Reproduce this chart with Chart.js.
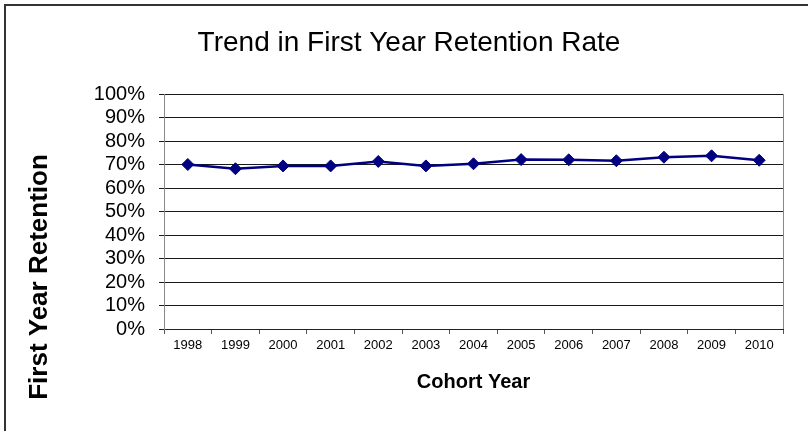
<!DOCTYPE html>
<html>
<head>
<meta charset="utf-8">
<script src="https://cdn.jsdelivr.net/npm/chart.js@4/dist/chart.umd.min.js"></script>
<style>
  html, body { margin: 0; padding: 0; background: #fff; overflow: hidden; }
  canvas { display: block; }
</style>
</head>
<body>
<canvas id="chart" width="808" height="431"></canvas>
<script>
const years = ['1998', '1999', '2000', '2001', '2002', '2003', '2004', '2005', '2006', '2007', '2008', '2009', '2010'];
const retention = [70.0, 68.2, 69.4, 69.4, 71.3, 69.4, 70.3, 72.1, 72.0, 71.6, 73.1, 73.7, 71.8];
const chartTitle = 'Trend in First Year Retention Rate';
const xTitle = 'Cohort Year';
const yTitle = 'First Year Retention';

const FONT = "'Liberation Sans', Arial, sans-serif";

// outer frame (only left and top edges are visible in the original)
const outerFrame = {
    id: 'outerFrame',
    beforeDraw(chart) {
        const ctx = chart.ctx;
        ctx.save();
        ctx.fillStyle = '#333';
        ctx.fillRect(4, 4, chart.width - 4, 2);
        ctx.fillRect(4, 4, 2, chart.height - 4);
        ctx.restore();
    }
};

// y title drawn by hand so it sits lower than the plot centre, like the original
const yTitlePlugin = {
    id: 'yTitle',
    afterDraw(chart) {
        const ctx = chart.ctx;
        ctx.save();
        ctx.translate(40, 277);
        ctx.rotate(-Math.PI / 2);
        ctx.font = 'bold 26px ' + FONT;
        ctx.fillStyle = '#000';
        ctx.textAlign = 'center';
        ctx.textBaseline = 'middle';
        ctx.fillText(yTitle, 0, 0);
        ctx.restore();
    }
};

// gray right edge of the plot area
const plotBorder = {
    id: 'plotBorder',
    afterDatasetsDraw(chart) {
        const a = chart.chartArea;
        const ctx = chart.ctx;
        ctx.save();
        ctx.strokeStyle = '#888';
        ctx.lineWidth = 1;
        ctx.beginPath();
        ctx.moveTo(Math.round(a.right) + 0.5, a.top);
        ctx.lineTo(Math.round(a.right) + 0.5, a.bottom);
        ctx.stroke();
        ctx.restore();
    }
};

const ctx = document.getElementById('chart').getContext('2d');
new Chart(ctx, {
    type: 'line',
    data: {
        labels: years,
        datasets: [{
            label: 'Retention',
            data: retention,
            borderColor: '#000080',
            backgroundColor: '#000080',
            borderWidth: 2.5,
            pointStyle: 'rectRot',
            pointRadius: 6,
            pointBorderWidth: 1,
            pointBackgroundColor: '#000080',
            pointBorderColor: '#000080',
            tension: 0
        }]
    },
    options: {
        responsive: false,
        animation: false,
        layout: { padding: { left: 35, right: 25, top: 0, bottom: 0 } },
        plugins: {
            legend: { display: false },
            tooltip: { enabled: false },
            title: {
                display: true,
                text: chartTitle,
                color: '#000',
                font: { family: FONT, size: 28, weight: 'normal' },
                padding: { top: 26, bottom: 34.4 }
            }
        },
        scales: {
            x: {
                offset: true,
                grid: {
                    offset: true,
                    drawOnChartArea: false,
                    drawTicks: true,
                    tickLength: 5,
                    color: '#555'
                },
                border: { display: true, color: '#222', width: 1 },
                ticks: {
                    color: '#000',
                    font: { family: FONT, size: 13 },
                    padding: 4,
                    maxRotation: 0,
                    autoSkip: false
                },
                title: {
                    display: true,
                    text: xTitle,
                    color: '#000',
                    font: { family: FONT, size: 20, weight: 'bold' },
                    padding: { top: 0, bottom: 37 }
                },
                afterFit: (scale) => { scale.height = 102; }
            },
            y: {
                min: 0,
                max: 100,
                grid: {
                    color: '#1a1a1a',
                    lineWidth: 1,
                    drawTicks: true,
                    tickLength: 5
                },
                border: { display: true, color: '#888', width: 1 },
                ticks: {
                    stepSize: 10,
                    autoSkip: false,
                    color: '#000',
                    font: { family: FONT, size: 20 },
                    padding: 14,
                    callback: (v) => v + '%'
                },
                afterFit: (scale) => { scale.width = 129; }
            }
        }
    },
    plugins: [outerFrame, yTitlePlugin, plotBorder]
});
</script>
</body>
</html>
